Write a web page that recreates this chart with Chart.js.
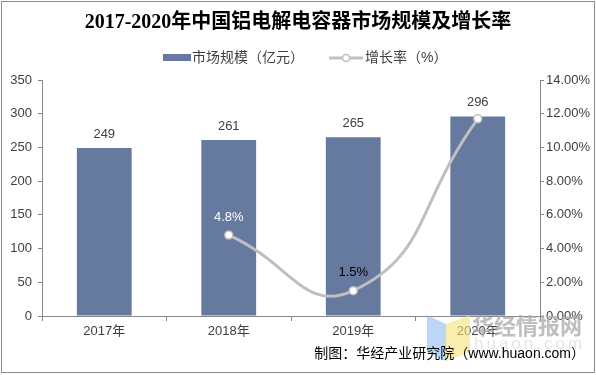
<!DOCTYPE html>
<html>
<head>
<meta charset="utf-8">
<script src="https://cdn.jsdelivr.net/npm/chart.js@4"></script>
<style>
  html, body { margin: 0; padding: 0; background: #fff; }
  #wrap { width: 596px; height: 375px; position: relative; }
</style>
</head>
<body>
<div id="wrap"><canvas id="marketChart" width="596" height="375"></canvas></div>
<script>
const years = ['2017年', '2018年', '2019年', '2020年'];
const marketSize = [249, 261, 265, 296];       // 亿元
const growthRate = [null, 4.8, 1.5, 11.7];      // %
const growthLabels = [null, '4.8%', '1.5%', null];
const growthLabelColors = [null, '#ffffff', '#000000', null];

const barColor = '#66799F';
const lineColor = '#BFBFBF';
const textColor = '#404040';
const axisColor = '#868686';
const cjkFont = '"Liberation Sans", "Noto Sans CJK SC", sans-serif';

// data labels, legend, title, footer and border
const decorations = {
    id: 'decorations',
    afterDatasetsDraw(chart) {
        const ctx = chart.ctx;
        ctx.save();
        ctx.textAlign = 'center';
        ctx.textBaseline = 'middle';
        ctx.font = '13px ' + cjkFont;

        const barMeta = chart.getDatasetMeta(1);
        barMeta.data.forEach((bar, i) => {
            ctx.fillStyle = textColor;
            ctx.fillText(String(marketSize[i]), bar.x, bar.y - 14);
        });

        const lineMeta = chart.getDatasetMeta(0);
        lineMeta.data.forEach((pt, i) => {
            if (!growthLabels[i]) return;
            ctx.fillStyle = growthLabelColors[i];
            ctx.fillText(growthLabels[i], pt.x, pt.y - 18);
        });
        ctx.restore();
    },
    afterDraw(chart) {
        const ctx = chart.ctx;
        ctx.save();

        // title
        ctx.fillStyle = '#000';
        ctx.textAlign = 'center';
        ctx.textBaseline = 'middle';
        ctx.font = 'bold 20px "Liberation Serif", "Noto Sans CJK SC", serif';
        ctx.fillText('2017-2020年中国铝电解电容器市场规模及增长率', 298, 23);

        // legend
        ctx.font = '14px ' + cjkFont;
        ctx.textAlign = 'left';
        ctx.fillStyle = barColor;
        ctx.fillRect(163, 54, 28, 7);
        ctx.fillStyle = textColor;
        ctx.fillText('市场规模（亿元）', 192, 58);

        ctx.strokeStyle = lineColor;
        ctx.lineWidth = 3;
        ctx.beginPath();
        ctx.moveTo(329, 58);
        ctx.lineTo(363, 58);
        ctx.stroke();
        ctx.beginPath();
        ctx.arc(346, 58, 3.5, 0, Math.PI * 2);
        ctx.fillStyle = '#fff';
        ctx.fill();
        ctx.lineWidth = 1.5;
        ctx.stroke();
        ctx.fillStyle = textColor;
        ctx.fillText('增长率（%）', 365, 58);

        // watermark
        ctx.globalAlpha = 0.6;
        ctx.fillStyle = '#8fbaf3';
        ctx.beginPath();
        ctx.moveTo(427, 315); ctx.lineTo(446, 324); ctx.lineTo(446, 361); ctx.lineTo(427, 352);
        ctx.closePath(); ctx.fill();
        ctx.fillStyle = '#f7e27a';
        ctx.beginPath();
        ctx.moveTo(446, 324); ctx.lineTo(470, 315); ctx.lineTo(470, 352); ctx.lineTo(446, 361);
        ctx.closePath(); ctx.fill();
        ctx.globalAlpha = 0.75;
        ctx.fillStyle = '#a8a8a8';
        ctx.font = 'bold 22px "Noto Sans CJK SC", sans-serif';
        ctx.fillText('华经情报网', 472, 326);
        ctx.globalAlpha = 0.3;
        ctx.font = '17px "Liberation Sans", sans-serif';
        ctx.letterSpacing = '3px';
        ctx.fillText('huaon.com', 474, 344);
        ctx.letterSpacing = '0px';
        ctx.globalAlpha = 1;

        // footer
        ctx.fillStyle = '#000';
        ctx.textAlign = 'right';
        ctx.font = '14px ' + cjkFont;
        ctx.fillText('制图：华经产业研究院（www.huaon.com）', 585, 354);

        // border
        ctx.strokeStyle = '#8c8c8c';
        ctx.lineWidth = 1;
        ctx.strokeRect(1.5, 1.5, 593, 371);
        ctx.restore();
    }
};

new Chart(document.getElementById('marketChart'), {
    data: {
        labels: years,
        datasets: [
            {
                type: 'line',
                label: '增长率（%）',
                data: growthRate,
                yAxisID: 'yRight',
                borderColor: lineColor,
                borderWidth: 3,
                tension: 0.5,
                pointRadius: 4,
                pointBackgroundColor: '#ffffff',
                pointBorderColor: lineColor,
                pointBorderWidth: 1.5,
                order: 0
            },
            {
                type: 'bar',
                label: '市场规模（亿元）',
                data: marketSize,
                yAxisID: 'y',
                backgroundColor: barColor,
                categoryPercentage: 1,
                barPercentage: 0.44,
                order: 1
            }
        ]
    },
    options: {
        responsive: false,
        animation: false,
        layout: { padding: { top: 80, left: 0, right: 0, bottom: 0 } },
        plugins: {
            legend: { display: false },
            title: { display: false },
            tooltip: { enabled: false }
        },
        scales: {
            x: {
                grid: { drawOnChartArea: false, offset: true, tickLength: 5, color: axisColor },
                border: { color: axisColor },
                ticks: { color: textColor, font: { size: 13, family: cjkFont }, padding: 3 },
                afterFit(scale) { scale.height = 59; }
            },
            y: {
                position: 'left',
                min: 0,
                max: 350,
                ticks: { stepSize: 50, color: textColor, font: { size: 13, family: cjkFont }, padding: 6 },
                grid: { drawOnChartArea: false, tickLength: 4, color: axisColor },
                border: { color: axisColor },
                afterFit(scale) { scale.width = 42; }
            },
            yRight: {
                position: 'right',
                min: 0,
                max: 14,
                ticks: {
                    stepSize: 2,
                    color: textColor,
                    font: { size: 13, family: cjkFont },
                    padding: 2,
                    callback: v => v.toFixed(2) + '%'
                },
                grid: { drawOnChartArea: false, tickLength: 4, color: axisColor },
                border: { color: axisColor },
                afterFit(scale) { scale.width = 56; }
            }
        }
    },
    plugins: [decorations]
});
</script>
</body>
</html>
